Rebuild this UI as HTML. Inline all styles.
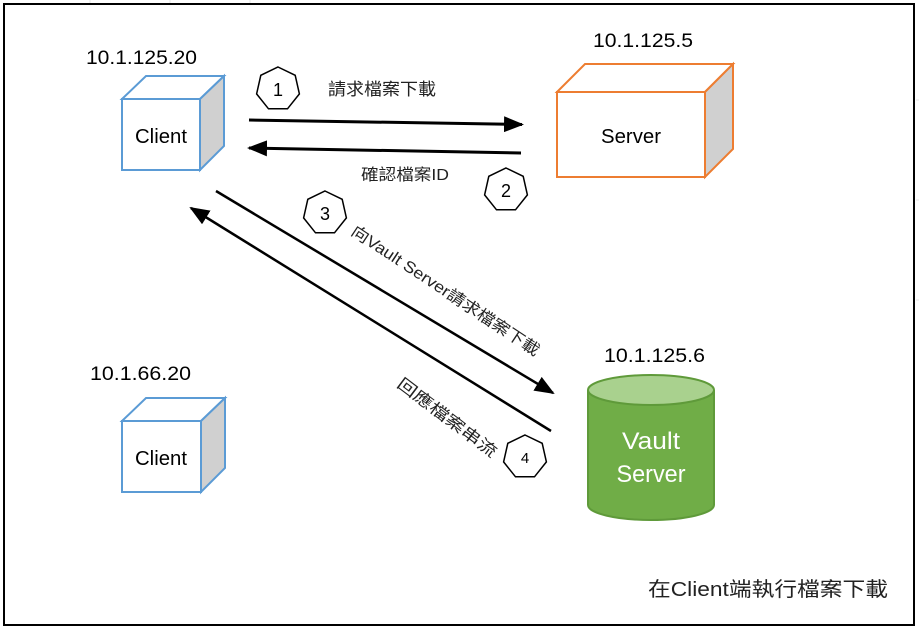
<!DOCTYPE html>
<html><head><meta charset="utf-8"><style>
html,body{margin:0;padding:0;background:#fff}
svg{display:block}
text{font-family:"Liberation Sans","Noto Sans CJK TC",sans-serif}
</style></head><body>
<svg width="919" height="629" viewBox="0 0 919 629" xmlns="http://www.w3.org/2000/svg">
<defs>
<polygon id="hep" points="0,-22 17.2,-13.7 21.4,4.9 9.5,19.8 -9.5,19.8 -21.4,4.9 -17.2,-13.7" fill="#fff" stroke="#000" stroke-width="1.5"/>
<marker id="ah" markerWidth="20" markerHeight="16" refX="18" refY="8" orient="auto" markerUnits="userSpaceOnUse" viewBox="0 0 20 16">
<path d="M0,0 L20,8 L0,16 z" fill="#000"/></marker>
</defs>
<rect x="0" y="0" width="919" height="629" fill="#fff"/>
<g stroke="#e4e4e4" stroke-width="1">
<line x1="90" y1="0" x2="90" y2="4"/><line x1="170" y1="0" x2="170" y2="4"/><line x1="250" y1="0" x2="250" y2="4"/>
<line x1="916" y1="100" x2="919" y2="100"/><line x1="916" y1="200" x2="919" y2="200"/><line x1="916" y1="300" x2="919" y2="300"/>
</g>
<rect x="4" y="4" width="910" height="621" fill="none" stroke="#000" stroke-width="2"/>

<!-- Client 1 -->
<polygon points="122,99 146,76 224,76 200,99" fill="#fff" stroke="#5b9bd5" stroke-width="2"/>
<polygon points="200,99 224,76 224,146 200,170" fill="#d0d0d0" stroke="#5b9bd5" stroke-width="2"/>
<rect x="122" y="99" width="78" height="71" fill="#fff" stroke="#5b9bd5" stroke-width="2"/>
<text x="161" y="143" font-size="20" text-anchor="middle" textLength="52" lengthAdjust="spacingAndGlyphs">Client</text>
<text x="86" y="64" font-size="19" textLength="111" lengthAdjust="spacingAndGlyphs">10.1.125.20</text>

<!-- Client 2 -->
<polygon points="122,421 146,398 225,398 201,421" fill="#fff" stroke="#5b9bd5" stroke-width="2"/>
<polygon points="201,421 225,398 225,468 201,492" fill="#d0d0d0" stroke="#5b9bd5" stroke-width="2"/>
<rect x="122" y="421" width="79" height="71" fill="#fff" stroke="#5b9bd5" stroke-width="2"/>
<text x="161" y="465" font-size="20" text-anchor="middle" textLength="52" lengthAdjust="spacingAndGlyphs">Client</text>
<text x="90" y="380" font-size="19" textLength="101" lengthAdjust="spacingAndGlyphs">10.1.66.20</text>

<!-- Server -->
<polygon points="557,92 585,64 733,64 705,92" fill="#fff" stroke="#ed7d31" stroke-width="2"/>
<polygon points="705,92 733,64 733,149 705,177" fill="#d0d0d0" stroke="#ed7d31" stroke-width="2"/>
<rect x="557" y="92" width="148" height="85" fill="#fff" stroke="#ed7d31" stroke-width="2"/>
<text x="631" y="143" font-size="20" text-anchor="middle" textLength="60" lengthAdjust="spacingAndGlyphs">Server</text>
<text x="593" y="47" font-size="19" textLength="100" lengthAdjust="spacingAndGlyphs">10.1.125.5</text>

<!-- Vault cylinder -->
<path d="M588,390 L588,505 A63,15 0 0 0 714,505 L714,390" fill="#70ad47" stroke="#5f9a3a" stroke-width="2"/>
<ellipse cx="651" cy="390" rx="63" ry="15" fill="#a9d18e" stroke="#5f9a3a" stroke-width="2"/>
<text x="651" y="449" font-size="24" fill="#fff" text-anchor="middle" textLength="58" lengthAdjust="spacingAndGlyphs">Vault</text>
<text x="651" y="482" font-size="24" fill="#fff" text-anchor="middle" textLength="69" lengthAdjust="spacingAndGlyphs">Server</text>
<text x="604" y="362" font-size="19" textLength="101" lengthAdjust="spacingAndGlyphs">10.1.125.6</text>

<!-- arrows -->
<g stroke="#000" stroke-width="3">
<line x1="249" y1="120" x2="522" y2="124.5" marker-end="url(#ah)"/>
<line x1="521" y1="153" x2="249" y2="148" marker-end="url(#ah)"/>
</g>
<g stroke="#000" stroke-width="2.5">
<line x1="216" y1="191" x2="553" y2="393" marker-end="url(#ah)"/>
<line x1="551" y1="431" x2="191" y2="208" marker-end="url(#ah)"/>
</g>

<!-- heptagons -->
<g transform="translate(278,89)"><use href="#hep"/><text y="7" font-size="18" text-anchor="middle">1</text></g>
<g transform="translate(506,190)"><use href="#hep"/><text y="7" font-size="18" text-anchor="middle">2</text></g>
<g transform="translate(325,213)"><use href="#hep"/><text y="7" font-size="18" text-anchor="middle">3</text></g>
<g transform="translate(525,457)"><use href="#hep"/><text y="6" font-size="15" text-anchor="middle">4</text></g>

<!-- labels -->
<text x="328" y="95" font-size="17" fill="#222" textLength="108" lengthAdjust="spacingAndGlyphs">請求檔案下載</text>
<text x="361" y="180" font-size="16" fill="#222" textLength="88" lengthAdjust="spacingAndGlyphs">確認檔案ID</text>
<text transform="translate(350,234) rotate(33.5)" font-size="16" fill="#222" textLength="222" lengthAdjust="spacingAndGlyphs">向Vault Server請求檔案下載</text>
<text transform="translate(396,386) rotate(37)" font-size="16" fill="#222" textLength="120" lengthAdjust="spacingAndGlyphs">回應檔案串流</text>
<text x="648" y="596" font-size="20" fill="#222" textLength="240" lengthAdjust="spacingAndGlyphs">在Client端執行檔案下載</text>
</svg>
</body></html>
